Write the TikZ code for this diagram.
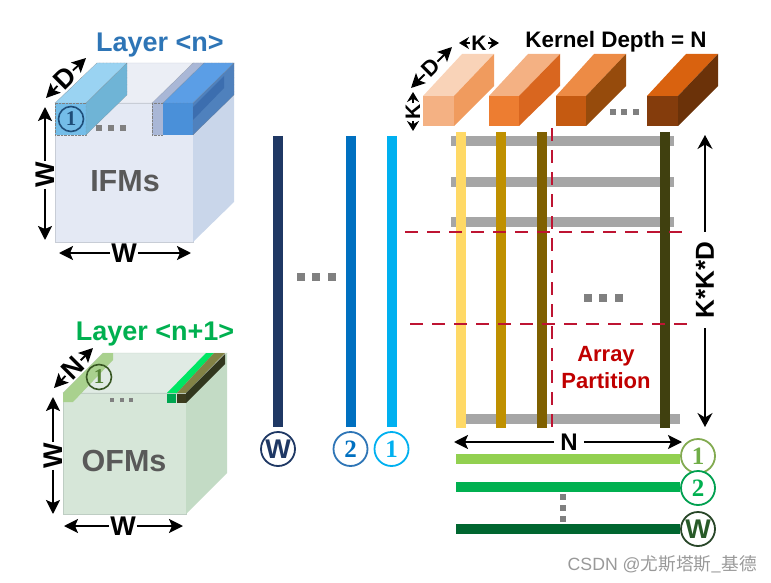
\documentclass[tikz,border=0pt]{standalone}
\usepackage{fontspec}
\setmainfont{Liberation Sans}
\newfontfamily\numfont{Liberation Serif}
\newfontfamily\cjkfont{Noto Sans CJK SC}
\usetikzlibrary{arrows.meta,positioning,calc}

\begin{document}
\begin{tikzpicture}[x=1pt, y=-1pt,
        dimlabel/.style={font=\fontsize{27}{27}\selectfont\bfseries, inner sep=1pt, text=black},
        dimline/.style={line width=1.8pt, -{Stealth[length=14pt, width=14pt, inset=3pt]}},
        title/.style={font=\fontsize{27}{27}\selectfont\bfseries, inner sep=0pt},
        mapname/.style={font=\fontsize{30.5}{30.5}\selectfont\bfseries, text=black!65, inner sep=0pt},
        bar/.style={line width=10pt},
        rowbar/.style={line width=10pt, draw=black!35},
        cut/.style={line width=1.5pt, draw={rgb,255:red,190;green,20;blue,50}, dash pattern=on 13pt off 9pt},
        dot/.style={fill=black!50, minimum size=5.5pt, inner sep=0pt, rectangle},
        numdisc/.style={circle, draw, line width=1.8pt, fill=white, minimum size=34pt, inner sep=0pt, font=\fontsize{25}{25}\selectfont\numfont\bfseries},
        wdisc/.style={circle, draw, line width=1.8pt, fill=white, minimum size=34pt, inner sep=0pt, font=\fontsize{27}{27}\selectfont\bfseries},
        smalldisc/.style={circle, draw, line width=1.6pt, minimum size=25pt, inner sep=0pt, font=\fontsize{21}{21}\selectfont\numfont\bfseries}]
        \useasboundingbox (0, 0) rectangle (771, 583);

        % IFMs cube
        \fill[fill={rgb,255:red,228;green,233;blue,244}, draw={rgb,255:red,200;green,205;blue,214}] (55, 103) rectangle (193, 242);
        \fill[fill={rgb,255:red,235;green,238;blue,245}, draw={rgb,255:red,200;green,205;blue,214}] (55, 103) -- (97, 63) -- (234, 63) -- (193, 103) -- cycle;
        \fill[fill={rgb,255:red,201;green,214;blue,234}] (193, 103) -- (234, 63) -- (234, 202) -- (193, 242) -- cycle;

        % Left stack
        \draw[densely dotted, fill={rgb,255:red,116;green,189;blue,232}, draw=black!50] (55, 103) rectangle (86, 135);
        \draw[densely dotted, fill={rgb,255:red,154;green,211;blue,242}, draw=black!50] (55, 103) -- (97, 63) -- (127, 63) -- (86, 103) -- cycle;
        \draw[densely dotted, fill={rgb,255:red,111;green,180;blue,214}, draw=black!50] (86, 103) -- (127, 63) -- (127, 95) -- (86, 135) -- cycle;

        % Right stack
        \draw[densely dotted, fill={rgb,255:red,169;green,183;blue,214}, draw=black!50] (152, 103) rectangle (163, 135);
        \draw[densely dotted, fill={rgb,255:red,169;green,183;blue,214}, draw=black!50] (152, 103) -- (193, 63) -- (204, 63) -- (163, 103) -- cycle;
        \fill[fill={rgb,255:red,74;green,144;blue,217}] (163, 103) rectangle (193, 135);
        \draw[fill={rgb,255:red,91;green,158;blue,230}, draw=black!50, densely dotted] (163, 103) -- (204, 63) -- (234, 63) -- (193, 103) -- cycle;
        \draw[fill={rgb,255:red,79;green,129;blue,189}, draw=black!50, densely dotted] (193, 103) -- (234, 63) -- (234, 95) -- (193, 135) -- cycle;
        \fill[fill={rgb,255:red,60;green,110;blue,175}] (193, 120) -- (224, 88) -- (224, 76) -- (193, 107) -- cycle;

        \node[smalldisc, draw={rgb,255:red,31;green,78;blue,121}, text={rgb,255:red,31;green,78;blue,121}] (oneIFM) at (71, 119) {1};
        \node[dot] (dotIFMa) at (99, 128) {};
        \node[dot] (dotIFMb) at (111, 128) {};
        \node[dot] (dotIFMc) at (123, 128) {};

        \node[mapname] (nameIFM) at (125, 181) {IFMs};
        \node[title, text={rgb,255:red,46;green,117;blue,182}] (layerIFM) at (160, 45) {Layer <n>};

        \node[dimlabel, rotate=45] (depthIFM) at (65, 78) {D};
        \coordinate (depthIFMa) at (46, 98);
        \coordinate (depthIFMb) at (86, 58);
        \draw[dimline] (depthIFM) -- (depthIFMa);
        \draw[dimline] (depthIFM) -- (depthIFMb);

        \node[dimlabel, rotate=90] (highIFM) at (45, 175) {W};
        \coordinate (highIFMa) at (45, 107);
        \coordinate (highIFMb) at (45, 240);
        \draw[dimline] (highIFM) -- (highIFMa);
        \draw[dimline] (highIFM) -- (highIFMb);

        \node[dimlabel] (wideIFM) at (124, 253) {W};
        \coordinate (wideIFMa) at (59, 253);
        \coordinate (wideIFMb) at (191, 253);
        \draw[dimline] (wideIFM) -- (wideIFMa);
        \draw[dimline] (wideIFM) -- (wideIFMb);

        % OFMs cube
        \fill[fill={rgb,255:red,214;green,230;blue,216}, draw={rgb,255:red,190;green,205;blue,195}] (63, 393) rectangle (186, 514);
        \fill[fill={rgb,255:red,224;green,235;blue,228}, draw={rgb,255:red,190;green,205;blue,195}] (63, 393) -- (103, 353) -- (227, 353) -- (186, 393) -- cycle;
        \fill[fill={rgb,255:red,195;green,219;blue,197}] (186, 393) -- (227, 353) -- (227, 473) -- (186, 514) -- cycle;

        % Output slices
        \fill[fill={rgb,255:red,169;green,209;blue,142}] (63, 393) -- (103, 353) -- (113, 353) -- (113, 360) -- (73, 402) -- (63, 402) -- cycle;
        \fill[fill={rgb,255:red,0;green,230;blue,100}] (167, 393) -- (206, 353) -- (214, 353) -- (177, 393) -- cycle;
        \fill[fill={rgb,255:red,130;green,130;blue,70}] (177, 393) -- (214, 353) -- (225, 353) -- (186, 393) -- cycle;
        \fill[fill={rgb,255:red,0;green,166;blue,81}] (167, 394) rectangle (176, 403);
        \fill[fill={rgb,255:red,60;green,60;blue,30}] (177, 394) rectangle (186, 403);
        \fill[fill={rgb,255:red,50;green,55;blue,30}] (186, 393) -- (225, 354) -- (225, 364) -- (186, 403) -- cycle;

        \node[smalldisc, draw={rgb,255:red,56;green,87;blue,35}, text={rgb,255:red,84;green,130;blue,53}] (oneOFM) at (99, 377) {1};
        \node[dot, minimum size=4.5pt] (dotOFMa) at (112, 400) {};
        \node[dot, minimum size=4.5pt] (dotOFMb) at (122, 400) {};
        \node[dot, minimum size=4.5pt] (dotOFMc) at (131, 400) {};

        \node[mapname] (nameOFM) at (124, 461) {OFMs};
        \node[title, text={rgb,255:red,0;green,176;blue,80}] (layerOFM) at (155, 334) {Layer <n+1>};

        \node[dimlabel, rotate=45] (depthOFM) at (73, 368) {N};
        \coordinate (depthOFMa) at (54, 388);
        \coordinate (depthOFMb) at (93, 348);
        \draw[dimline] (depthOFM) -- (depthOFMa);
        \draw[dimline] (depthOFM) -- (depthOFMb);

        \node[dimlabel, rotate=90] (highOFM) at (53, 456) {W};
        \coordinate (highOFMa) at (53, 397);
        \coordinate (highOFMb) at (53, 514);
        \draw[dimline] (highOFM) -- (highOFMa);
        \draw[dimline] (highOFM) -- (highOFMb);

        \node[dimlabel] (wideOFM) at (123, 526) {W};
        \coordinate (wideOFMa) at (64, 526);
        \coordinate (wideOFMb) at (183, 526);
        \draw[dimline] (wideOFM) -- (wideOFMa);
        \draw[dimline] (wideOFM) -- (wideOFMb);

        % Flattened input columns
        \node[wdisc, draw={rgb,255:red,31;green,56;blue,100}, text={rgb,255:red,31;green,56;blue,100}] (inW) at (278, 449) {W};
        \node[numdisc, draw={rgb,255:red,46;green,117;blue,182}, text={rgb,255:red,0;green,112;blue,192}] (inTwo) at (350.5, 449) {2};
        \node[numdisc, draw={rgb,255:red,0;green,176;blue,240}, text={rgb,255:red,0;green,176;blue,240}] (inOne) at (391.5, 449) {1};
        \coordinate (topW) at (278, 136);
        \coordinate (topTwo) at (350.5, 136);
        \coordinate (topOne) at (391.5, 136);
        \draw[bar, shorten >=4pt, draw={rgb,255:red,31;green,56;blue,100}] (topW) -- (inW);
        \draw[bar, shorten >=4pt, draw={rgb,255:red,0;green,112;blue,192}] (topTwo) -- (inTwo);
        \draw[bar, shorten >=4pt, draw={rgb,255:red,0;green,176;blue,240}] (topOne) -- (inOne);
        \node[dot, minimum size=8pt] (dotInA) at (301, 277) {};
        \node[dot, minimum size=8pt] (dotInB) at (316, 277) {};
        \node[dot, minimum size=8pt] (dotInC) at (332, 277) {};

        % Kernels
        \fill[fill={rgb,255:red,244;green,177;blue,131}] (423, 96) rectangle (454, 126);
        \fill[fill={rgb,255:red,249;green,211;blue,184}] (423, 96) -- (462, 54) -- (494, 54) -- (454, 96) -- cycle;
        \fill[fill={rgb,255:red,240;green,155;blue,94}] (454, 96) -- (494, 54) -- (494, 86) -- (454, 126) -- cycle;

        \fill[fill={rgb,255:red,237;green,125;blue,49}] (489, 96) rectangle (519, 126);
        \fill[fill={rgb,255:red,244;green,177;blue,131}] (489, 96) -- (528, 54) -- (560, 54) -- (519, 96) -- cycle;
        \fill[fill={rgb,255:red,217;green,102;blue,31}] (519, 96) -- (560, 54) -- (560, 86) -- (519, 126) -- cycle;

        \fill[fill={rgb,255:red,197;green,90;blue,17}] (556, 96) rectangle (586, 126);
        \fill[fill={rgb,255:red,237;green,139;blue,69}] (556, 96) -- (594, 54) -- (626, 54) -- (586, 96) -- cycle;
        \fill[fill={rgb,255:red,150;green,75;blue,12}] (586, 96) -- (626, 54) -- (626, 86) -- (586, 126) -- cycle;

        \fill[fill={rgb,255:red,132;green,60;blue,12}] (647, 96) rectangle (678, 126);
        \fill[fill={rgb,255:red,217;green,98;blue,15}] (647, 96) -- (686, 54) -- (718, 54) -- (678, 96) -- cycle;
        \fill[fill={rgb,255:red,107;green,50;blue,9}] (678, 96) -- (718, 54) -- (718, 86) -- (678, 126) -- cycle;

        \node[dot] (dotKerA) at (613, 112) {};
        \node[dot] (dotKerB) at (624, 112) {};
        \node[dot] (dotKerC) at (636, 112) {};

        \node[font=\fontsize{22.4}{22.4}\selectfont\bfseries, inner sep=0pt] (depthText) at (616, 42) {Kernel Depth = N};

        \node[dimlabel, font=\fontsize{21}{21}\selectfont\bfseries] (kerWide) at (479, 43) {K};
        \coordinate (kerWideA) at (459, 43);
        \coordinate (kerWideB) at (499, 43);
        \draw[dimline, -{Stealth[length=10pt, width=12pt]}] (kerWide) -- (kerWideA);
        \draw[dimline, -{Stealth[length=10pt, width=12pt]}] (kerWide) -- (kerWideB);

        \node[dimlabel, rotate=45, font=\fontsize{22}{22}\selectfont\bfseries] (kerDepth) at (431, 68) {D};
        \coordinate (kerDepthA) at (411, 88);
        \coordinate (kerDepthB) at (452, 47);
        \draw[dimline] (kerDepth) -- (kerDepthA);
        \draw[dimline] (kerDepth) -- (kerDepthB);

        \node[dimlabel, rotate=90, font=\fontsize{21}{21}\selectfont\bfseries] (kerHigh) at (413, 112) {K};
        \coordinate (kerHighA) at (413, 92);
        \coordinate (kerHighB) at (413, 131);
        \draw[dimline, -{Stealth[length=10pt, width=12pt]}] (kerHigh) -- (kerHighA);
        \draw[dimline, -{Stealth[length=10pt, width=12pt]}] (kerHigh) -- (kerHighB);

        % PE array
        \draw[rowbar] (451, 141) -- (674, 141);
        \draw[rowbar] (451, 182) -- (674, 182);
        \draw[rowbar] (451, 222) -- (674, 222);
        \draw[rowbar] (461, 419) -- (680, 419);

        \draw[bar, draw={rgb,255:red,255;green,217;blue,102}] (461, 132) -- (461, 428);
        \draw[bar, draw={rgb,255:red,191;green,144;blue,0}] (501, 132) -- (501, 428);
        \draw[bar, draw={rgb,255:red,127;green,96;blue,0}] (542, 132) -- (542, 428);
        \draw[bar, draw={rgb,255:red,64;green,64;blue,15}] (665, 132) -- (665, 428);

        \draw[cut] (405, 232) -- (687, 232);
        \draw[cut] (410, 324) -- (688, 324);
        \draw[cut] (552, 128) -- (552, 435);

        \node[dot, minimum size=8pt] (dotArrA) at (588, 298) {};
        \node[dot, minimum size=8pt] (dotArrB) at (603, 298) {};
        \node[dot, minimum size=8pt] (dotArrC) at (619, 298) {};

        \node[font=\fontsize{22}{27}\selectfont\bfseries, text={rgb,255:red,192;green,0;blue,0}, align=center, inner sep=0pt] (partText) at (606, 368) {Array\\Partition};

        \node[dimlabel, rotate=90, font=\fontsize{26}{26}\selectfont\bfseries, inner sep=10pt] (arrHigh) at (705, 280) {K*K*D};
        \coordinate (arrHighA) at (705, 135);
        \coordinate (arrHighB) at (705, 427);
        \draw[dimline, -{Stealth[length=14pt, width=15pt]}] (arrHigh) -- (arrHighA);
        \draw[dimline, -{Stealth[length=14pt, width=15pt]}] (arrHigh) -- (arrHighB);

        \node[dimlabel, font=\fontsize{24}{24}\selectfont\bfseries, inner sep=6pt] (arrWide) at (569, 442) {N};
        \coordinate (arrWideA) at (454, 442);
        \coordinate (arrWideB) at (682, 442);
        \draw[dimline] (arrWide) -- (arrWideA);
        \draw[dimline] (arrWide) -- (arrWideB);

        % Flattened output rows
        \coordinate (startOne) at (456, 459);
        \coordinate (startTwo) at (456, 487);
        \coordinate (startW) at (456, 529);
        \node[numdisc, draw={rgb,255:red,130;green,170;blue,80}, text={rgb,255:red,112;green,173;blue,71}] (outOne) at (698, 456) {1};
        \node[numdisc, draw={rgb,255:red,0;green,160;blue,80}, text={rgb,255:red,0;green,176;blue,80}] (outTwo) at (698, 488) {2};
        \node[wdisc, draw={rgb,255:red,40;green,70;blue,40}, text={rgb,255:red,40;green,90;blue,40}] (outW) at (698, 529) {W};
        \draw[bar, draw={rgb,255:red,146;green,208;blue,80}] (startOne) -- (outOne.west |- startOne);
        \draw[bar, draw={rgb,255:red,0;green,176;blue,80}] (startTwo) -- (outTwo.west |- startTwo);
        \draw[bar, draw={rgb,255:red,0;green,102;blue,48}] (startW) -- (outW);
        \node[dot] (dotOutA) at (563, 497) {};
        \node[dot] (dotOutB) at (563, 508) {};
        \node[dot] (dotOutC) at (563, 519) {};

        % Watermark
        \node[font=\fontsize{17.7}{17.7}\selectfont, text=black!40, anchor=east, inner sep=0pt] (mark) at (757, 564) {CSDN @{\cjkfont 尤斯塔斯\_基德}};

    \end{tikzpicture}
\end{document}
